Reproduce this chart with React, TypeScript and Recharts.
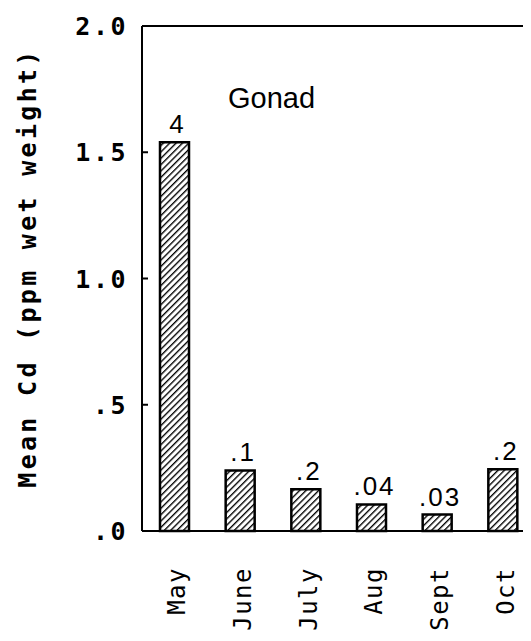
import { BarChart, Bar, XAxis, YAxis, ReferenceLine, LabelList } from 'recharts';

const months = ['May', 'June', 'July', 'Aug', 'Sept', 'Oct'];
const meanCd = [1.54, 0.24, 0.165, 0.105, 0.065, 0.245];
const barNotes = ['4', '.1', '.2', '.04', '.03', '.2'];
const yTicks = [0, 0.5, 1, 1.5, 2];
const yTickLabels = ['.0', '.5', '1.0', '1.5', '2.0'];

const data = months.map((m, i) => ({ month: m, cd: meanCd[i], note: barNotes[i] }));

const MONO = '"DejaVu Sans Mono", monospace';
const SANS = '"Liberation Sans", Arial, sans-serif';

const YTick = (props: any) => {
  const { x, y, payload } = props;
  const i = yTicks.indexOf(payload.value);
  return (
    <g>
      <line x1={x + 17} x2={x + 23} y1={y} y2={y} stroke="#000" strokeWidth={2} />
      <text
        x={x + 3}
        y={y}
        dy="0.36em"
        textAnchor="end"
        fontFamily={MONO}
        fontWeight="bold"
        fontSize={25}
        letterSpacing={2.5}
        fill="#000"
      >
        {yTickLabels[i]}
      </text>
    </g>
  );
};

const XTick = (props: any) => {
  const { x, y, payload } = props;
  return (
    <text
      transform={`translate(${x + 2},${y + 28}) rotate(-90)`}
      dy="0.35em"
      textAnchor="end"
      fontFamily={MONO}
      fontSize={24}
      letterSpacing={1.5}
      fill="#000"
    >
      {payload.value}
    </text>
  );
};

const NoteLabel = (props: any) => {
  const { x, y, width, value } = props;
  return (
    <text
      x={x + width / 2 + 3}
      y={y - 9}
      textAnchor="middle"
      fontFamily={SANS}
      fontSize={26}
      letterSpacing={2}
      fill="#000"
    >
      {value}
    </text>
  );
};

const YLabel = (props: any) => {
  const { viewBox } = props;
  const cy = viewBox.y + viewBox.height / 2 - 11;
  return (
    <text
      transform={`translate(${viewBox.x + 27},${cy}) rotate(-90)`}
      dy="0.35em"
      textAnchor="middle"
      fontFamily={MONO}
      fontWeight="bold"
      fontSize={25}
      letterSpacing={3.3}
      fill="#000"
    >
      Mean Cd (ppm wet weight)
    </text>
  );
};

export default function App() {
  return (
    <div style={{ marginLeft: -8, marginTop: -8, width: 531, height: 641, overflow: 'hidden', background: '#fff' }}>
      <BarChart width={536} height={641} data={data} margin={{ top: 26, right: 0, left: 0, bottom: 0 }}>
        <defs>
          <pattern id="hatch" width="4.5" height="4.5" patternUnits="userSpaceOnUse" patternTransform="rotate(45)">
            <rect width="4.5" height="4.5" fill="#fff" />
            <line x1="0" y1="0" x2="0" y2="4.5" stroke="#000" strokeWidth="2.7" />
          </pattern>
        </defs>
        <XAxis
          dataKey="month"
          height={110}
          interval={0}
          tickLine={false}
          axisLine={{ stroke: '#000', strokeWidth: 2 }}
          tick={<XTick />}
        />
        <YAxis
          width={142}
          domain={[0, 2]}
          ticks={yTicks}
          interval={0}
          tickSize={6}
          tickMargin={11}
          tickLine={false}
          axisLine={{ stroke: '#000', strokeWidth: 2 }}
          tick={<YTick />}
          label={<YLabel />}
        />
        <ReferenceLine y={2} stroke="#000" strokeWidth={2} />
        <Bar dataKey="cd" barSize={29} fill="url(#hatch)" stroke="#000" strokeWidth={2.5} isAnimationActive={false}>
          <LabelList dataKey="note" content={<NoteLabel />} />
        </Bar>
        <text x={228} y={108} fontFamily={SANS} fontSize={29} fill="#000">
          Gonad
        </text>
      </BarChart>
    </div>
  );
}
